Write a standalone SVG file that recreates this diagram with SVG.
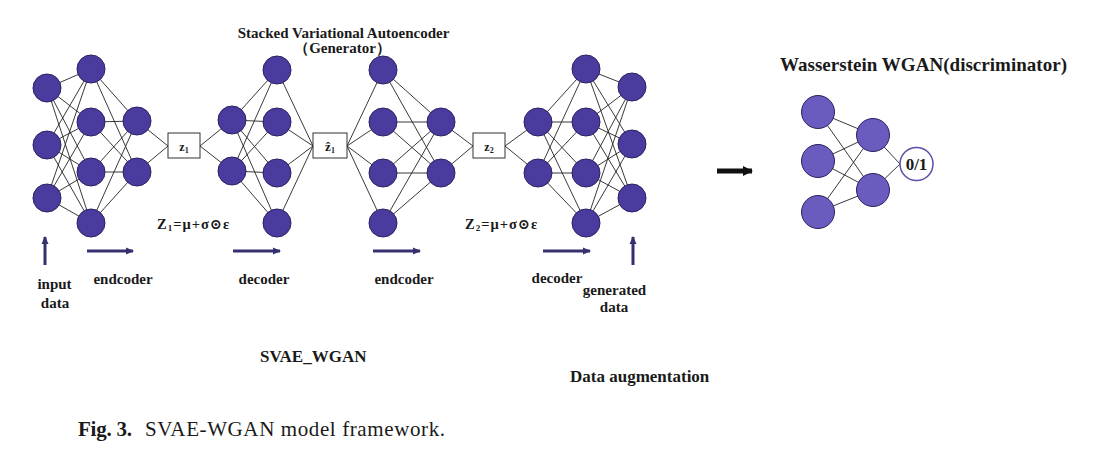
<svg xmlns="http://www.w3.org/2000/svg" width="1103" height="452" viewBox="0 0 1103 452">
<style>
.n{fill:#4a3c9f;stroke:#2a2260;stroke-width:1}
.d{fill:#6a5bbf;stroke:#2a2260;stroke-width:1}
.box{fill:#ffffff;stroke:#333333;stroke-width:1}
.t{font-family:"Liberation Serif","DejaVu Serif",serif;font-weight:bold;fill:#1a1a1a}
.c{stroke:#222222;stroke-width:0.9;fill:none}
.ar{stroke:#35316e;stroke-width:3;fill:none}
</style>
<defs>
<marker id="ah" markerUnits="userSpaceOnUse" markerWidth="8" markerHeight="8" refX="7" refY="4" orient="auto">
<path d="M0 0.5L8 4L0 7.5Z" fill="#35316e"/>
</marker>
<marker id="ahk" markerUnits="userSpaceOnUse" markerWidth="10" markerHeight="11" refX="9" refY="5.5" orient="auto">
<path d="M0 0.5L10 5.5L0 10.5Z" fill="#111111"/>
</marker>
</defs>
<rect width="1103" height="452" fill="#ffffff"/>
<g id="connectors">
<path class="c" d="M47 88L91 69M47 88L91 122M47 88L91 172M47 88L91 223M47 145L91 69M47 145L91 122M47 145L91 172M47 145L91 223M47 198L91 69M47 198L91 122M47 198L91 172M47 198L91 223"/>
<path class="c" d="M91 69L137 121M91 69L137 172M91 122L137 121M91 122L137 172M91 172L137 121M91 172L137 172M91 223L137 121M91 223L137 172"/>
<path class="c" d="M137 121L168 146M137 172L168 146M200 146L232 120M200 146L232 171"/>
<path class="c" d="M232 120L277 70M232 120L277 122M232 120L277 173M232 120L277 223M232 171L277 70M232 171L277 122M232 171L277 173M232 171L277 223"/>
<path class="c" d="M277 70L313 146M277 122L313 146M277 173L313 146M277 223L313 146M347 146L383 70M347 146L383 122M347 146L383 173M347 146L383 223"/>
<path class="c" d="M383 70L441 122M383 70L441 173M383 122L441 122M383 122L441 173M383 173L441 122M383 173L441 173M383 223L441 122M383 223L441 173"/>
<path class="c" d="M441 122L473 146M441 173L473 146M505 146L538 122M505 146L538 173"/>
<path class="c" d="M538 122L586 69M538 122L586 122M538 122L586 173M538 122L586 223M538 173L586 69M538 173L586 122M538 173L586 173M538 173L586 223"/>
<path class="c" d="M586 69L632 87M586 69L632 144M586 69L632 198M586 122L632 87M586 122L632 144M586 122L632 198M586 173L632 87M586 173L632 144M586 173L632 198M586 223L632 87M586 223L632 144M586 223L632 198"/>
<path class="c" d="M818 112L873 135M818 112L873 190M818 161L873 135M818 161L873 190M818 212L873 135M818 212L873 190M873 135L900 164M873 190L900 164"/>
<line class="ar" x1="45" y1="265" x2="45" y2="237" marker-end="url(#ah)"/>
<line class="ar" x1="633" y1="265" x2="633" y2="237" marker-end="url(#ah)"/>
<line class="ar" x1="87" y1="251" x2="133" y2="251" marker-end="url(#ah)"/>
<line class="ar" x1="233" y1="251" x2="280" y2="251" marker-end="url(#ah)"/>
<line class="ar" x1="373" y1="251" x2="420" y2="251" marker-end="url(#ah)"/>
<line class="ar" x1="543" y1="251" x2="590" y2="251" marker-end="url(#ah)"/>
<line x1="717" y1="171" x2="752" y2="171" stroke="#111111" stroke-width="5" marker-end="url(#ahk)"/>
</g>
<g id="layer-input">
<circle class="n" cx="47" cy="88" r="14"/><circle class="n" cx="47" cy="145" r="14"/><circle class="n" cx="47" cy="198" r="14"/>
</g>
<g id="layer-enc1">
<circle class="n" cx="91" cy="69" r="14"/><circle class="n" cx="91" cy="122" r="14"/><circle class="n" cx="91" cy="172" r="14"/><circle class="n" cx="91" cy="223" r="14"/>
</g>
<g id="layer-enc1b">
<circle class="n" cx="137" cy="121" r="14"/><circle class="n" cx="137" cy="172" r="14"/>
</g>
<g id="z1">
<rect class="box" x="168" y="133" width="32" height="25"/>
<text class="t" x="184" y="151" font-size="12" text-anchor="middle">z<tspan font-size="8" dy="2">1</tspan></text>
</g>
<g id="layer-dec1a">
<circle class="n" cx="232" cy="120" r="14"/><circle class="n" cx="232" cy="171" r="14"/>
</g>
<g id="layer-dec1b">
<circle class="n" cx="277" cy="70" r="14"/><circle class="n" cx="277" cy="122" r="14"/><circle class="n" cx="277" cy="173" r="14"/><circle class="n" cx="277" cy="223" r="14"/>
</g>
<g id="z1hat">
<rect class="box" x="313" y="133" width="34" height="25"/>
<text class="t" x="330" y="151" font-size="13" text-anchor="middle">ẑ<tspan font-size="8" dy="2">1</tspan></text>
</g>
<g id="layer-enc2a">
<circle class="n" cx="383" cy="70" r="14"/><circle class="n" cx="383" cy="122" r="14"/><circle class="n" cx="383" cy="173" r="14"/><circle class="n" cx="383" cy="223" r="14"/>
</g>
<g id="layer-enc2b">
<circle class="n" cx="441" cy="122" r="14"/><circle class="n" cx="441" cy="173" r="14"/>
</g>
<g id="z2">
<rect class="box" x="473" y="133" width="32" height="25"/>
<text class="t" x="489" y="151" font-size="12" text-anchor="middle">z<tspan font-size="8" dy="2">2</tspan></text>
</g>
<g id="layer-dec2a">
<circle class="n" cx="538" cy="122" r="14"/><circle class="n" cx="538" cy="173" r="14"/>
</g>
<g id="layer-dec2b">
<circle class="n" cx="586" cy="69" r="14"/><circle class="n" cx="586" cy="122" r="14"/><circle class="n" cx="586" cy="173" r="14"/><circle class="n" cx="586" cy="223" r="14"/>
</g>
<g id="layer-output">
<circle class="n" cx="632" cy="87" r="14"/><circle class="n" cx="632" cy="144" r="14"/><circle class="n" cx="632" cy="198" r="14"/>
</g>
<g id="disc-layer1">
<circle class="d" cx="818" cy="112" r="16.5"/><circle class="d" cx="818" cy="161" r="16.5"/><circle class="d" cx="818" cy="212" r="16.5"/>
</g>
<g id="disc-layer2">
<circle class="d" cx="873" cy="135" r="16.5"/><circle class="d" cx="873" cy="190" r="16.5"/>
</g>
<g id="disc-out">
<circle cx="916.5" cy="164" r="16.5" fill="#ffffff" stroke="#5a4fa8" stroke-width="1.5"/>
<text class="t" x="916.5" y="170" font-size="17" text-anchor="middle">0/1</text>
</g>
<g id="labels">
<text class="t" x="343.5" y="38" font-size="15" text-anchor="middle">Stacked Variational Autoencoder</text>
<text class="t" x="342.5" y="53" font-size="15" text-anchor="middle" font-family="'Liberation Serif','Noto Sans CJK SC',serif">（Generator）</text>
<text class="t" x="780" y="71" font-size="19" textLength="287">Wasserstein WGAN(discriminator)</text>
<text class="t" x="157" y="229" font-size="14.5" letter-spacing="1">Z<tspan font-size="9" dy="2">1</tspan><tspan dy="-2">=μ+σ⊙ε</tspan></text>
<text class="t" x="465" y="229" font-size="14.5" letter-spacing="1">Z<tspan font-size="9" dy="2">2</tspan><tspan dy="-2">=μ+σ⊙ε</tspan></text>
<text class="t" x="54.5" y="289" font-size="15" text-anchor="middle">input</text>
<text class="t" x="55" y="308" font-size="15" text-anchor="middle">data</text>
<text class="t" x="123" y="284" font-size="15" text-anchor="middle">endcoder</text>
<text class="t" x="264" y="284" font-size="15" text-anchor="middle">decoder</text>
<text class="t" x="404" y="284" font-size="15" text-anchor="middle">endcoder</text>
<text class="t" x="557" y="283" font-size="15" text-anchor="middle">decoder</text>
<text class="t" x="614.5" y="295" font-size="15" text-anchor="middle">generated</text>
<text class="t" x="614" y="312" font-size="15" text-anchor="middle">data</text>
<text class="t" x="260" y="362" font-size="17">SVAE_WGAN</text>
<text class="t" x="570" y="382" font-size="17">Data augmentation</text>
<text class="t" x="78" y="436" font-size="21" textLength="54">Fig. 3.</text>
<text x="145" y="436" font-size="21" textLength="300" font-family="'Liberation Serif','DejaVu Serif',serif" fill="#1a1a1a">SVAE-WGAN model framework.</text>
</g>
</svg>
